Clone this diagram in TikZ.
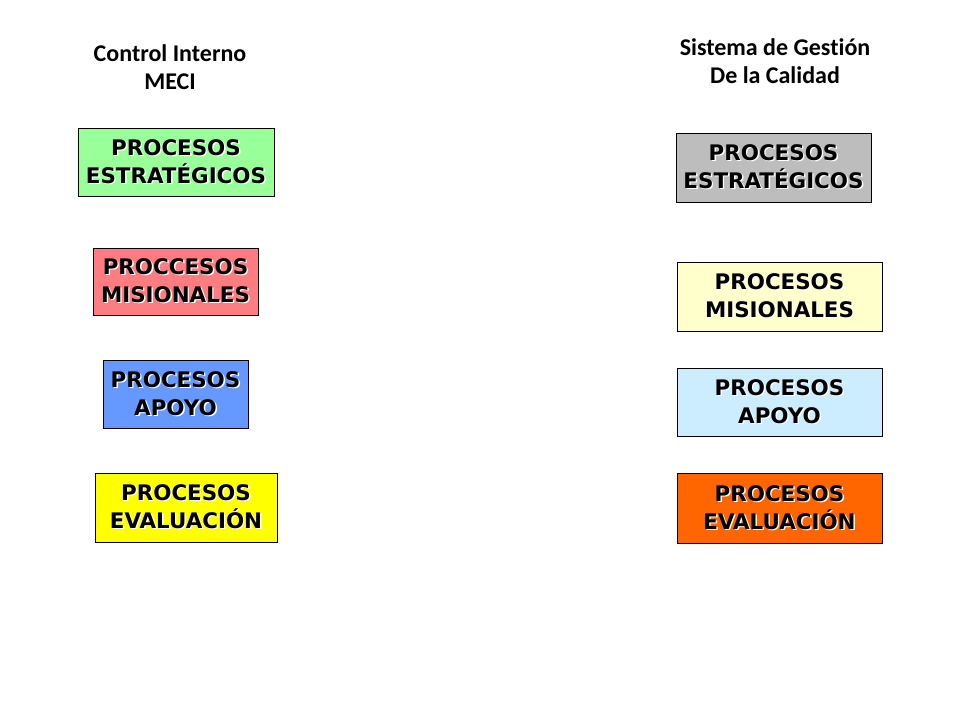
\documentclass[tikz,border=0pt]{standalone}
\usepackage{fontspec}
\setmainfont[Ligatures=NoCommon]{Carlito}
\newfontfamily\boxfont{DejaVu Sans}
\newcommand\shd[1]{\makebox[0pt][l]{\hspace{1.4pt}\raisebox{-1.4pt}{\textcolor{white}{#1}}}#1}
\definecolor{cgreen}{HTML}{99FF99}
\definecolor{cpink}{HTML}{FF7C80}
\definecolor{cblue}{HTML}{6699FF}
\definecolor{cyellow}{HTML}{FFFF00}
\definecolor{cgray}{HTML}{BDBDBD}
\definecolor{clyellow}{HTML}{FFFFCC}
\definecolor{clblue}{HTML}{CCECFF}
\definecolor{corange}{HTML}{FF6600}
\begin{document}
\begin{tikzpicture}[x=1pt,y=-1pt,
  header/.style={align=center,font=\fontsize{24}{28}\selectfont\bfseries,inner sep=0pt},
  proc/.style={draw=black,line width=0.8pt,inner sep=0pt,align=center,
    font=\boxfont\fontsize{21.4}{28}\selectfont\bfseries}]
\useasboundingbox (0,0) rectangle (960,720);
\fill[white] (0,0) rectangle (960,720);
\node[header] (h1) at (170,67) {Control Interno\\MECI};
\node[header] (h2) at (775,61) {Sistema de Gestión\\De la Calidad};
% left column
\node[proc,fill=cgreen,minimum width=196pt,minimum height=68pt] (l1) at (176,162) {\shd{PROCESOS}\\\shd{ESTRATÉGICOS}};
\node[proc,fill=cpink,minimum width=165pt,minimum height=67pt] (l2) at (175.5,281.5) {\shd{PROCCESOS}\\\shd{MISIONALES}};
\node[proc,fill=cblue,minimum width=145pt,minimum height=68pt] (l3) at (175.5,394) {\shd{PROCESOS}\\\shd{APOYO}};
\node[proc,fill=cyellow,minimum width=182pt,minimum height=69pt] (l4) at (186,507.5) {\shd{PROCESOS}\\\shd{EVALUACIÓN}};
% right column
\node[proc,fill=cgray,minimum width=195pt,minimum height=69pt] (r1) at (773.5,167.5) {\shd{PROCESOS}\\\shd{ESTRATÉGICOS}};
\node[proc,fill=clyellow,minimum width=205pt,minimum height=69pt] (r2) at (779.5,296.5) {\shd{PROCESOS}\\\shd{MISIONALES}};
\node[proc,fill=clblue,minimum width=205pt,minimum height=68pt] (r3) at (779.5,402) {\shd{PROCESOS}\\\shd{APOYO}};
\node[proc,fill=corange,minimum width=205pt,minimum height=70pt] (r4) at (779.5,508) {\shd{PROCESOS}\\\shd{EVALUACIÓN}};
\end{tikzpicture}
\end{document}
